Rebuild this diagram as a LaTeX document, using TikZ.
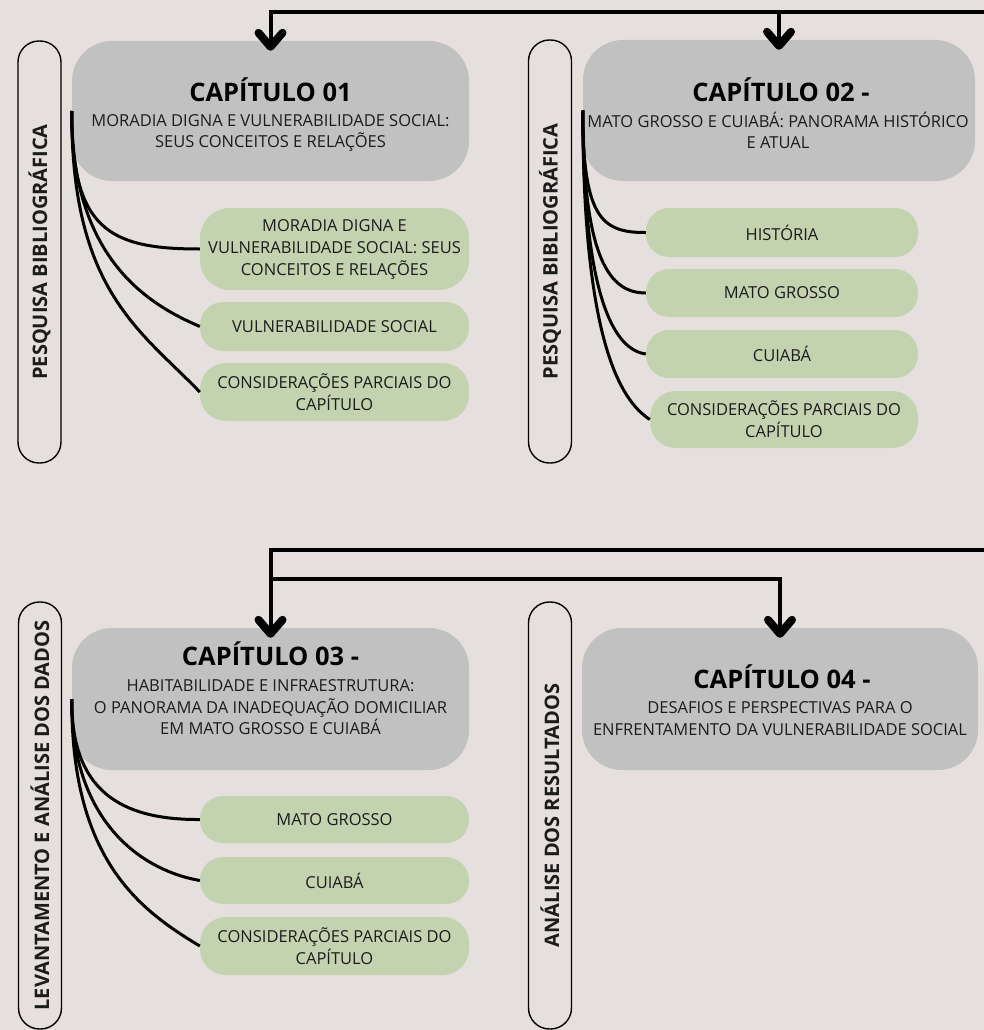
\documentclass[tikz,border=0pt]{standalone}
\usepackage{fontspec}
\setmainfont{Open Sans}

\definecolor{paper}{RGB}{229,224,221}
\definecolor{chapfill}{RGB}{193,193,193}
\definecolor{topicfill}{RGB}{196,211,175}
\definecolor{ink}{RGB}{28,28,28}

\tikzset{
  chapbox/.style={fill=chapfill, rounded corners=40pt, inner sep=0pt},
  chaptitle/.style={font=\bfseries\fontsize{25.5}{28}\selectfont, text=black, inner sep=0pt},
  chapsub/.style={font=\fontsize{16.5}{21.5}\selectfont, text=ink, align=center, inner sep=0pt},
  topic/.style={fill=topicfill, rounded corners=23pt, inner sep=0pt, align=center,
    font=\fontsize{16.5}{22}\selectfont, text=ink},
  sidepill/.style={draw=black, line width=1.4pt, fill=paper, rounded corners=21pt,
    rotate=90, minimum height=43pt, inner sep=0pt,
    font=\bfseries\fontsize{20}{22}\selectfont, text=ink},
  feed/.style={draw=black, line width=4pt},
  chevron/.style={draw=black, line width=8pt, line cap=round, line join=round},
  branch/.style={draw=black, line width=3pt}
}
% bold chevron head sitting on the top edge of a chapter box
\newcommand\chevronon[1]{%
  \draw[chevron] ([shift={(-12,-8)}]#1.north) -- ([shift={(0,6)}]#1.north)
                 -- ([shift={(12,-8)}]#1.north);}

\begin{document}
\begin{tikzpicture}[x=1pt, y=-1pt]
  \fill[paper] (0,0) rectangle (984,1030);
  \useasboundingbox (0,0) rectangle (984,1030);

  % ---------- chapter boxes ----------
  \node[chapbox, minimum width=397pt, minimum height=140pt] (c1) at (270.5,111) {};
  \node[chaptitle] (c1t) at (270.5,90) {CAPÍTULO 01};
  \node[chapsub] (c1s) at (270.5,133) {MORADIA DIGNA E VULNERABILIDADE SOCIAL:\\SEUS CONCEITOS E RELAÇÕES};

  \node[chapbox, minimum width=392pt, minimum height=141pt] (c2) at (779,110.5) {};
  \node[chaptitle] (c2t) at (781,90) {CAPÍTULO 02 -};
  \node[chapsub] (c2s) at (778,130.5) {MATO GROSSO E CUIABÁ: PANORAMA HISTÓRICO\\E ATUAL};

  \node[chapbox, minimum width=397pt, minimum height=142pt] (c3) at (270.5,699) {};
  \node[chaptitle] (c3t) at (270.5,654) {CAPÍTULO 03 -};
  \node[chapsub] (c3s) at (270.5,707.5) {HABITABILIDADE E INFRAESTRUTURA:\\O PANORAMA DA INADEQUAÇÃO DOMICILIAR\\EM MATO GROSSO E CUIABÁ};

  \node[chapbox, minimum width=396pt, minimum height=142pt] (c4) at (780,699) {};
  \node[chaptitle] (c4t) at (782,677) {CAPÍTULO 04 -};
  \node[chapsub] (c4s) at (780,718.5) {DESAFIOS E PERSPECTIVAS PARA O\\ENFRENTAMENTO DA VULNERABILIDADE SOCIAL};

  % ---------- side labels ----------
  \node[sidepill, minimum width=422pt] (s1) at (39.5,252) {PESQUISA BIBLIOGRÁFICA};
  \node[sidepill, minimum width=423pt] (s2) at (550,251.5) {PESQUISA BIBLIOGRÁFICA};
  \node[sidepill, minimum width=427pt] (s3) at (40,815.5) {LEVANTAMENTO E ANÁLISE DOS DADOS};
  \node[sidepill, minimum width=427pt] (s4) at (550,815.5) {ANÁLISE DOS RESULTADOS};

  % ---------- topics ----------
  \node[topic, minimum width=269pt, minimum height=82pt, rounded corners=30pt] (g1a) at (334.5,249)
    {MORADIA DIGNA E\\VULNERABILIDADE SOCIAL: SEUS\\CONCEITOS E RELAÇÕES};
  \node[topic, minimum width=269pt, minimum height=49pt] (g1b) at (334.5,326.5) {VULNERABILIDADE SOCIAL};
  \node[topic, minimum width=269pt, minimum height=58pt, rounded corners=26pt] (g1c) at (334.5,392)
    {CONSIDERAÇÕES PARCIAIS DO\\CAPÍTULO};

  \node[topic, minimum width=272pt, minimum height=49pt] (g2a) at (782,232.5) {HISTÓRIA};
  \node[topic, minimum width=272pt, minimum height=48pt] (g2b) at (782,293) {MATO GROSSO};
  \node[topic, minimum width=272pt, minimum height=48pt] (g2c) at (782,354) {CUIABÁ};
  \node[topic, minimum width=268pt, minimum height=57pt, rounded corners=26pt] (g2d) at (784,419.5)
    {CONSIDERAÇÕES PARCIAIS DO\\CAPÍTULO};

  \node[topic, minimum width=269pt, minimum height=47pt] (g3a) at (334.5,819.5) {MATO GROSSO};
  \node[topic, minimum width=269pt, minimum height=47pt] (g3b) at (334.5,880.5) {CUIABÁ};
  \node[topic, minimum width=269pt, minimum height=58pt, rounded corners=26pt] (g3c) at (334.5,946)
    {CONSIDERAÇÕES PARCIAIS DO\\CAPÍTULO};

  % ---------- branches from each chapter to its topics ----------
  \draw[branch] (c1.west) .. controls (71,230) and (110,249) .. (g1a.west);
  \draw[branch] (c1.west) .. controls (71,260) and (150,305) .. (g1b.west);
  \draw[branch] (c1.west) .. controls (71,290) and (140,330) .. (g1c.west);

  \draw[branch] (c2.west) .. controls (583,215) and (600,233) .. (g2a.west);
  \draw[branch] (c2.west) .. controls (583,260) and (610,293) .. (g2b.west);
  \draw[branch] (c2.west) .. controls (583,300) and (615,350) .. (g2c.west);
  \draw[branch] (c2.west) .. controls (583,340) and (620,400) .. (g2d.west);

  \draw[branch] (c3.west) .. controls (71,790) and (120,820) .. (g3a.west);
  \draw[branch] (c3.west) .. controls (71,820) and (140,870) .. (g3b.west);
  \draw[branch] (c3.west) .. controls (71,860) and (140,910) .. (g3c.west);

  % ---------- incoming flow lines ----------
  \coordinate (inA) at (984,12);
  \draw[feed] (inA) -| (c1.north);
  \draw[feed] (c2.north |- inA) -- (c2.north);
  \chevronon{c1}
  \chevronon{c2}

  \coordinate (inB) at (984,550);
  \coordinate (fork) at (270.5,579);
  \draw[feed] (inB) -| (c3.north);
  \draw[feed] (fork) -| (c4.north);
  \chevronon{c3}
  \chevronon{c4}
\end{tikzpicture}
\end{document}
